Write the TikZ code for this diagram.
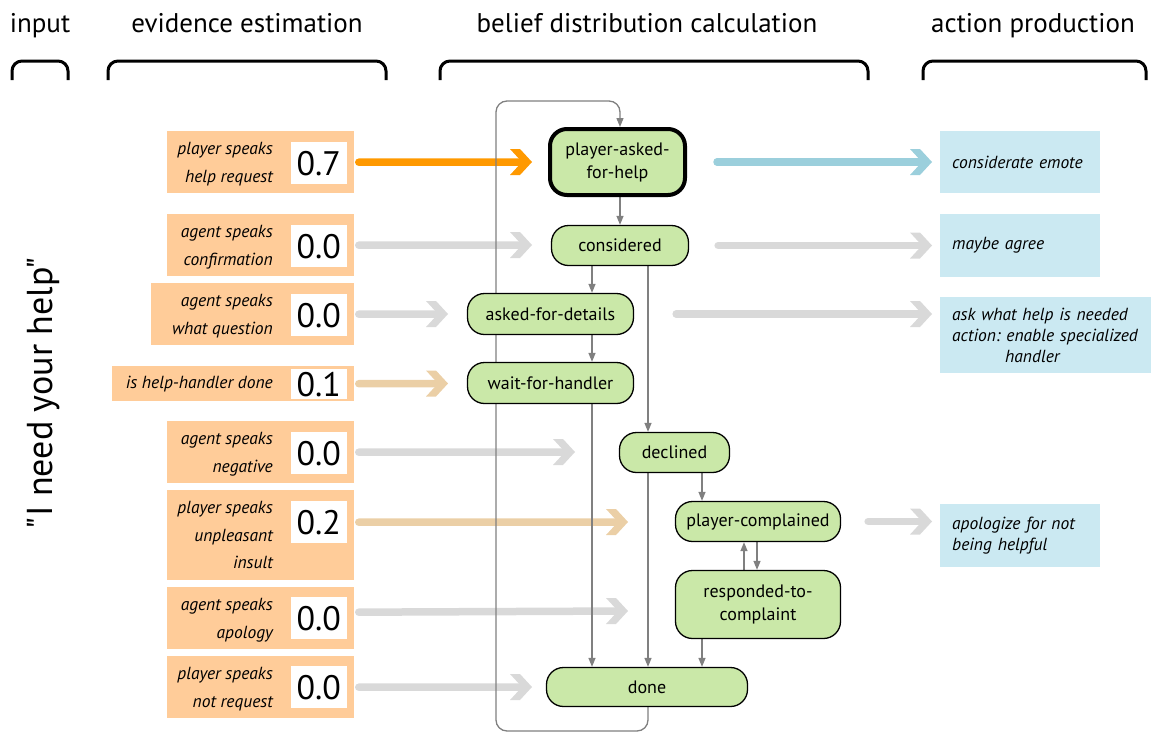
\documentclass[tikz,border=0pt]{standalone}
\usepackage{fontspec}
\setmainfont{PT Sans}
\newfontfamily\uttfont{PT Sans}[Ligatures=TeXOff]
\usetikzlibrary{arrows.meta,calc}
\frenchspacing

\definecolor{peach}{HTML}{FFCC99}
\definecolor{sky}{HTML}{CBE9F2}
\definecolor{leaf}{HTML}{CAE8A8}
\definecolor{flowgray}{HTML}{D9D9D9}
\definecolor{flowtan}{HTML}{EBCFA6}
\definecolor{floworange}{HTML}{FF9900}
\definecolor{flowblue}{HTML}{9BCFDC}
\definecolor{linkgray}{HTML}{808080}

\pgfdeclarelayer{back}
\pgfsetlayers{back,main}

\begin{document}
\begin{tikzpicture}[x=1pt, y=-1pt,
  head/.style={font=\fontsize{27}{30}\selectfont, inner sep=0pt, anchor=base},
  bracket/.style={line width=3pt, rounded corners=10pt},
  evbox/.style={fill=peach, inner sep=0pt, anchor=north east},
  evtext/.style={font=\fontsize{17.5}{27.5}\selectfont\itshape, align=right, inner sep=0pt, anchor=north east},
  evval/.style={fill=white, inner sep=0pt, minimum width=56pt, minimum height=42pt, anchor=north east, font=\fontsize{34}{36}\selectfont},
  state/.style={draw=black, line width=1.3pt, fill=leaf, rounded corners=17pt, inner sep=0pt, align=center, font=\fontsize{18}{23}\selectfont},
  actbox/.style={fill=sky, inner xsep=12pt, inner ysep=0pt, align=left, anchor=north west, font=\fontsize{17.5}{21}\selectfont\itshape},
  flow/.style={line width=7.5pt, line cap=round, shorten >=9pt, shorten <=#1},
  flow/.default=4.75pt,
  link/.style={draw=linkgray, line width=1.3pt, -{Triangle[length=9pt,width=7pt]}},
  chevron/.pic={\fill[pic actions] (0,0) -- (-12,-13) -- (-22,-13) -- (-10,0) -- (-22,13) -- (-12,13) -- cycle;}
]
\useasboundingbox (0,0) rectangle (1151,734);

% column headings and their brackets
\node[head] (hinput) at (40,32) {input};
\node[head] (hevid) at (247,32) {evidence estimation};
\node[head] (hbelief) at (647,32) {belief distribution calculation};
\node[head] (haction) at (1033,32) {action production};
\draw[bracket] (12,80) -- (12,61) -- (68,61) -- (68,80);
\draw[bracket] (108,80) -- (108,61) -- (386,61) -- (386,80);
\draw[bracket] (440,80) -- (440,61) -- (868,61) -- (868,80);
\draw[bracket] (923,80) -- (923,61) -- (1146,61) -- (1146,80);

% the utterance
\node[rotate=90, font=\uttfont\fontsize{36}{40}\selectfont, inner sep=0pt] (utterance) at (44,393) {"I need your help"};

% evidence boxes
\node[evbox, minimum width=187pt, minimum height=62pt] (e1) at (354,131) {};
\node[evval] (e1v) at (347,142) {0.7};
\node[evtext] (e1t) at (273,142.5) {player speaks\\help request};

\node[evbox, minimum width=187pt, minimum height=62pt] (e2) at (354,214) {};
\node[evval] (e2v) at (347,225) {0.0};
\node[evtext] (e2t) at (273,225.5) {agent speaks\\confirmation};

\node[evbox, minimum width=203pt, minimum height=62pt] (e3) at (354,283) {};
\node[evval] (e3v) at (347,294) {0.0};
\node[evtext] (e3t) at (273,294.5) {agent speaks\\what question};

\node[evbox, minimum width=242pt, minimum height=35pt] (e4) at (354,366) {};
\node[evval, minimum height=30pt] (e4v) at (347,369) {0.1};
\node[evtext] (e4t) at (273,375.5) {is help-handler done};

\node[evbox, minimum width=187pt, minimum height=62pt] (e5) at (354,421) {};
\node[evval] (e5v) at (347,432) {0.0};
\node[evtext] (e5t) at (273,432.5) {agent speaks\\negative};

\node[evbox, minimum width=187pt, minimum height=90pt] (e6) at (354,490) {};
\node[evval] (e6v) at (347,501) {0.2};
\node[evtext] (e6t) at (273,501.5) {player speaks\\unpleasant\\insult};

\node[evbox, minimum width=187pt, minimum height=62pt] (e7) at (354,587) {};
\node[evval] (e7v) at (347,597) {0.0};
\node[evtext] (e7t) at (273,598.5) {agent speaks\\apology};

\node[evbox, minimum width=187pt, minimum height=62pt] (e8) at (354,656) {};
\node[evval] (e8v) at (347,666) {0.0};
\node[evtext] (e8t) at (273,667.5) {player speaks\\not request};

% belief states
\node[state, line width=4pt, minimum width=135pt, minimum height=66pt] (pah) at (617.5,162) {player-asked-\\for-help};
\node[state, minimum width=137pt, minimum height=40pt] (cons) at (620,245.5) {considered};
\node[state, minimum width=166pt, minimum height=41pt] (afd) at (550.5,314) {asked-for-details};
\node[state, minimum width=166pt, minimum height=41pt] (wfh) at (550.5,383) {wait-for-handler};
\node[state, minimum width=110pt, minimum height=40pt] (dec) at (674.5,452.5) {declined};
\node[state, minimum width=165pt, minimum height=40pt] (pc) at (758,521.5) {player-complained};
\node[state, minimum width=165pt, minimum height=68pt] (rtc) at (758,604.5) {responded-to-\\complaint};
\node[state, minimum width=201pt, minimum height=39pt] (done) at (647,687) {done};

% actions (the third box runs on past the right edge of the page)
\node[actbox, text width=136pt, minimum height=62pt] (a1) at (940,131) {considerate emote};
\node[actbox, text width=136pt, minimum height=63pt] (a2) at (940,214) {maybe agree};
\node[actbox, text width=210pt, minimum height=76pt] (a3) at (940,297) {ask what help is needed\\action: enable specialized\\\hspace*{53pt}handler};
\node[actbox, text width=136pt, minimum height=63pt] (a4) at (940,504) {apologize for not\\being helpful};

% arrow tips of the evidence and action flows
\coordinate (t1) at (532,162);
\coordinate (t2) at (532,245);
\coordinate (t3) at (448,314);
\coordinate (t4) at (448,383.5);
\coordinate (t5) at (575,452);
\coordinate (t6) at (628,522);
\coordinate (t7) at (628,611);
\coordinate (t8) at (532,687);
\coordinate (o1) at (932,162);
\coordinate (o2) at (932,245.5);
\coordinate (o3) at (932,314);
\coordinate (o4) at (932,521.5);

% columns of the transition lines
\coordinate (colloop) at (620,0);
\coordinate (colwait) at (592,0);
\coordinate (coldec) at (648,0);
\coordinate (colpc) at (702,0);
\coordinate (colup) at (744,0);
\coordinate (coldown) at (757,0);
\coordinate (loopbot) at (496,731);
\coordinate (looptop) at (620,101);

\begin{pgfonlayer}{back}
  % evidence flows
  \draw[flow, draw=floworange] (e1.east) -- (t1);
  \pic[fill=floworange] at (t1) {chevron};
  \draw[flow, draw=flowgray] (e2.east) -- (t2);
  \pic[fill=flowgray] at (t2) {chevron};
  \draw[flow, draw=flowgray] (e3.east) -- (t3);
  \pic[fill=flowgray] at (t3) {chevron};
  \draw[flow, draw=flowtan] (e4.east) -- (t4);
  \pic[fill=flowtan] at (t4) {chevron};
  \draw[flow, draw=flowgray] (e5.east) -- (t5);
  \pic[fill=flowgray] at (t5) {chevron};
  \draw[flow, draw=flowtan] (e6.east |- e6v.east) -- (t6);
  \pic[fill=flowtan] at (t6) {chevron};
  \draw[flow, draw=flowgray] ([yshift=6pt]e7.east) -- (t7);
  \pic[fill=flowgray] at (t7) {chevron};
  \draw[flow, draw=flowgray] (e8.east) -- (t8);
  \pic[fill=flowgray] at (t8) {chevron};

  % action flows
  \draw[flow=30pt, draw=flowblue] (pah.east) -- (o1);
  \pic[fill=flowblue] at (o1) {chevron};
  \draw[flow=29pt, draw=flowgray] (cons.east) -- (o2);
  \pic[fill=flowgray] at (o2) {chevron};
  \draw[flow=42pt, draw=flowgray] (afd.east) -- (o3);
  \pic[fill=flowgray] at (o3) {chevron};
  \draw[flow=27pt, draw=flowgray] (pc.east) -- (o4);
  \pic[fill=flowgray] at (o4) {chevron};

  % transitions between belief states
  \draw[link] (pah.south -| colloop) -- (cons.north -| colloop);
  \draw[link] (cons.south -| colwait) -- (afd.north -| colwait);
  \draw[link] (afd.south -| colwait) -- (wfh.north -| colwait);
  \draw[link] (wfh.south -| colwait) -- (done.north -| colwait);
  \draw[link] (cons.south -| coldec) -- (dec.north -| coldec);
  \draw[link] (dec.south -| coldec) -- (done.north -| coldec);
  \draw[link] (dec.south -| colpc) -- (pc.north -| colpc);
  \draw[link] (rtc.north -| colup) -- (pc.south -| colup);
  \draw[link] (pc.south -| coldown) -- (rtc.north -| coldown);
  \draw[link] (rtc.south -| colpc) -- (done.north -| colpc);
  \draw[link, rounded corners=11pt] (done.south -| coldec) |- (loopbot) |- (looptop) -- (pah.north -| colloop);
\end{pgfonlayer}
\end{tikzpicture}
\end{document}
